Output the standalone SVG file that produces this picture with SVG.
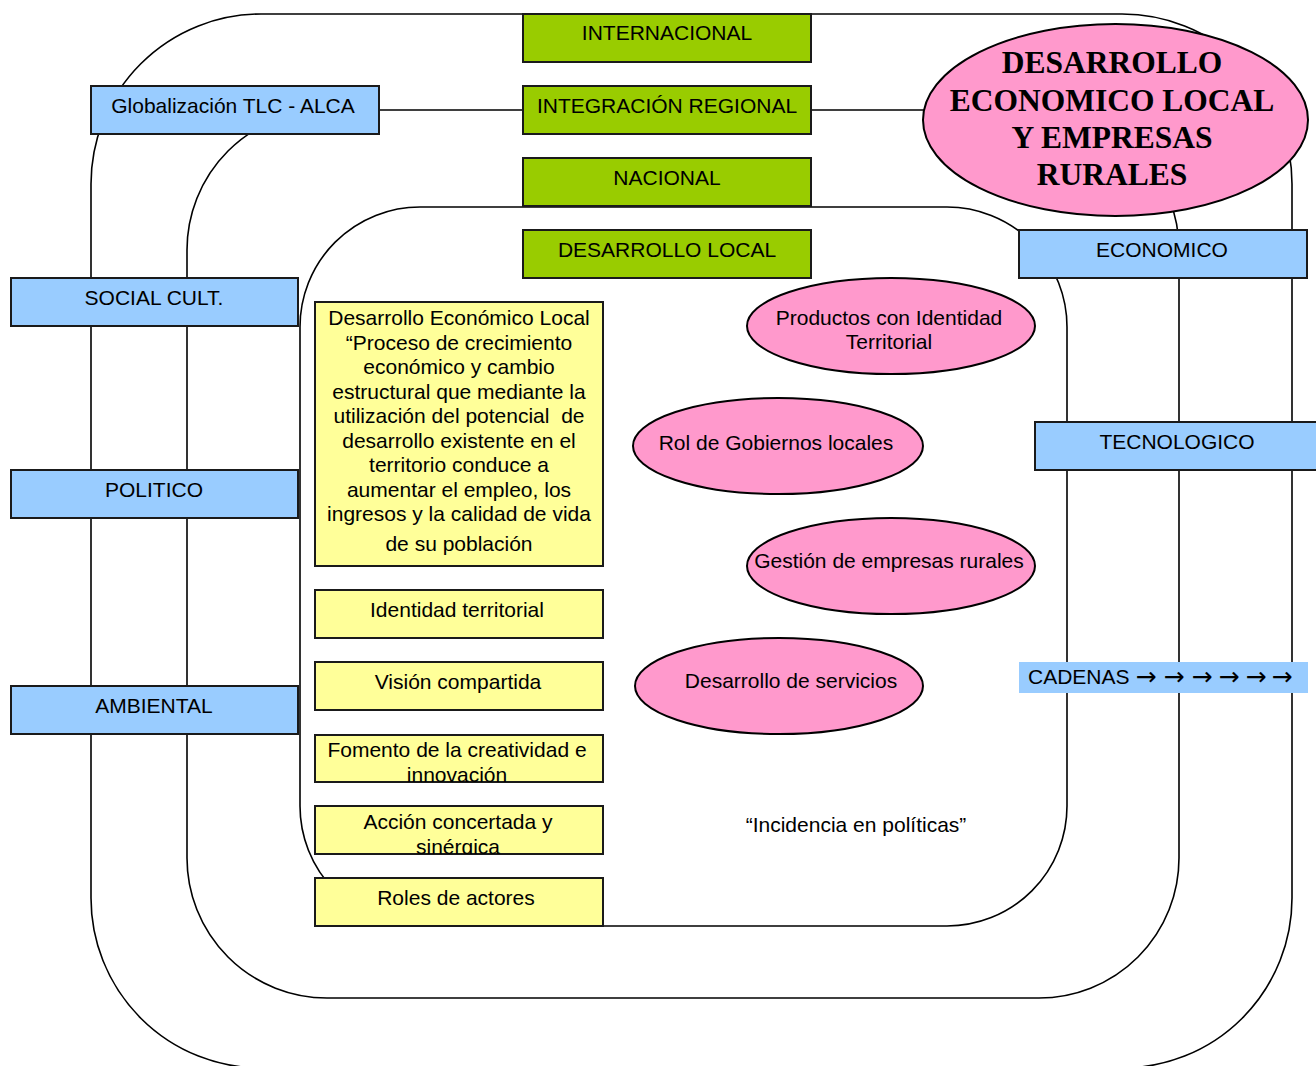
<svg xmlns="http://www.w3.org/2000/svg" width="1316" height="1066" viewBox="0 0 1316 1066">
<style>
.ring{fill:none;stroke:#000;stroke-width:1.6}
.g{fill:#99CC00;stroke:#1a1a1a;stroke-width:2}
.b{fill:#99CCFF;stroke:#1a1a1a;stroke-width:2}
.y{fill:#FFFF99;stroke:#1a1a1a;stroke-width:2}
.p{fill:#FF99CC;stroke:#000;stroke-width:2}
text{font-family:"Liberation Sans",Arial,"DejaVu Sans",sans-serif;font-size:21px;fill:#000;text-anchor:middle}
.big{font-family:"Liberation Serif","Times New Roman",serif;font-weight:bold;font-size:31.5px}
.arr{font-family:"DejaVu Sans",sans-serif;font-size:25px}
</style>
<defs>
<clipPath id="cf"><rect x="315" y="735" width="288" height="47"/></clipPath>
<clipPath id="ca"><rect x="315" y="806" width="288" height="48"/></clipPath>
</defs>
<rect width="1316" height="1066" fill="#fff"/>
<g id="connectors">
<rect class="ring" x="91" y="14" width="1201" height="1054" rx="170" ry="170"/>
<rect class="ring" x="187" y="110" width="992" height="888" rx="140" ry="140"/>
<rect class="ring" x="300" y="207" width="767" height="719" rx="120" ry="120"/>
</g>
<g id="internacional"><rect class="g" x="523" y="14" width="288" height="48"/><text x="667" y="40">INTERNACIONAL</text></g>
<g id="integracion"><rect class="g" x="523" y="86" width="288" height="48"/><text x="667" y="113">INTEGRACIÓN REGIONAL</text></g>
<g id="nacional"><rect class="g" x="523" y="158" width="288" height="48"/><text x="667" y="185">NACIONAL</text></g>
<g id="desarrollo-local"><rect class="g" x="523" y="230" width="288" height="48"/><text x="667" y="257">DESARROLLO LOCAL</text></g>
<g id="globalizacion"><rect class="b" x="91" y="86" width="288" height="48"/><text x="233" y="113">Globalización TLC - ALCA</text></g>
<g id="social"><rect class="b" x="11" y="278" width="287" height="48"/><text x="154" y="305">SOCIAL CULT.</text></g>
<g id="politico"><rect class="b" x="11" y="470" width="287" height="48"/><text x="154" y="497">POLITICO</text></g>
<g id="ambiental"><rect class="b" x="11" y="686" width="287" height="48"/><text x="154" y="713">AMBIENTAL</text></g>
<g id="economico"><rect class="b" x="1019" y="230" width="288" height="48"/><text x="1162" y="257">ECONOMICO</text></g>
<g id="tecnologico"><rect class="b" x="1035" y="422" width="290" height="48"/><text x="1177" y="449">TECNOLOGICO</text></g>
<g id="cadenas"><rect x="1019" y="662" width="289" height="31" fill="#99CCFF"/><text x="1028" y="684" style="text-anchor:start">CADENAS</text>
<text class="arr" y="685"><tspan x="1146">→</tspan><tspan x="1174">→</tspan><tspan x="1202">→</tspan><tspan x="1229">→</tspan><tspan x="1256">→</tspan><tspan x="1282">→</tspan></text></g>
<g id="titulo"><ellipse class="p" cx="1115.5" cy="120" rx="192.5" ry="96"/>
<text class="big" x="1112" y="73">DESARROLLO</text>
<text class="big" x="1112" y="111">ECONOMICO LOCAL</text>
<text class="big" x="1112" y="148">Y EMPRESAS</text>
<text class="big" x="1112" y="185">RURALES</text></g>
<g id="definicion"><rect class="y" x="315" y="302" width="288" height="264"/>
<text x="459" y="325">Desarrollo Económico Local</text>
<text x="459" y="349.5">“Proceso de crecimiento</text>
<text x="459" y="374">económico y cambio</text>
<text x="459" y="398.5">estructural que mediante la</text>
<text x="459" y="423" xml:space="preserve">utilización del potencial  de</text>
<text x="459" y="447.5">desarrollo existente en el</text>
<text x="459" y="472">territorio conduce a</text>
<text x="459" y="496.5">aumentar el empleo, los</text>
<text x="459" y="521">ingresos y la calidad de vida</text>
<text x="459" y="551">de su población</text></g>
<g id="identidad"><rect class="y" x="315" y="590" width="288" height="48"/><text x="457" y="617">Identidad territorial</text></g>
<g id="vision"><rect class="y" x="315" y="662" width="288" height="48"/><text x="458" y="689">Visión compartida</text></g>
<g id="fomento"><rect class="y" x="315" y="735" width="288" height="47"/><g clip-path="url(#cf)"><text x="457" y="757">Fomento de la creatividad e</text><text x="457" y="781.5">innovación</text></g></g>
<g id="accion"><rect class="y" x="315" y="806" width="288" height="48"/><g clip-path="url(#ca)"><text x="458" y="829">Acción concertada y</text><text x="458" y="853.5">sinérgica</text></g></g>
<g id="roles"><rect class="y" x="315" y="878" width="288" height="48"/><text x="456" y="905">Roles de actores</text></g>
<g id="productos"><ellipse class="p" cx="891" cy="326" rx="144" ry="48"/><text x="889" y="324.5">Productos con Identidad</text><text x="889" y="349">Territorial</text></g>
<g id="gobiernos"><ellipse class="p" cx="778" cy="446" rx="145" ry="48"/><text x="776" y="449.5">Rol de Gobiernos locales</text></g>
<g id="gestion"><ellipse class="p" cx="891" cy="566" rx="144" ry="48"/><text x="889" y="567.5">Gestión de empresas rurales</text></g>
<g id="servicios"><ellipse class="p" cx="779" cy="686" rx="144" ry="48"/><text x="791" y="687.5">Desarrollo de servicios</text></g>
<g id="incidencia"><text x="856" y="831.5">“Incidencia en políticas”</text></g>
</svg>
